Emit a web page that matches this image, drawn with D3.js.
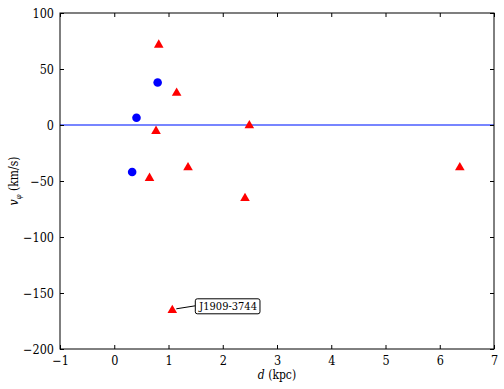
<!DOCTYPE html>
<html>
<head>
<meta charset="utf-8">
<script src="https://cdn.jsdelivr.net/npm/d3@7"></script>
<style>
  body { margin: 0; background: #fff; }
</style>
</head>
<body>
<div id="chart"></div>
<script>
var w = 504
  , h = 389
  , m = { top: 13, right: 10, bottom: 40, left: 60 }
  , serif = '"DejaVu Serif Condensed", "Noto Serif", "Liberation Serif", serif'
  ;

// blue circles
var circleD = [0.33, 0.41, 0.80];
var circleV = [-42, 6.5, 38];

// red triangles
var triD = [0.82, 1.15, 0.77, 2.49, 1.36, 0.65, 2.41, 6.37, 1.07];
var triV = [72, 29, -5, 0, -37.5, -47, -65, -37.5, -165];

var xTicks = [-1, 0, 1, 2, 3, 4, 5, 6, 7];
var yTicks = [-200, -150, -100, -50, 0, 50, 100];

var labelName = 'J1909-3744';
var labelIdx = 8;

var svg = d3.select('#chart').append('svg')
            .attr('width', w).attr('height', h)
  , iw = w - m.left - m.right
  , ih = h - m.top - m.bottom
  , g = svg.append('g').attr('transform', 'translate(' + m.left + ',' + m.top + ')')
  ;

var x = d3.scaleLinear().domain([-1, 7]).range([0, iw]);
var y = d3.scaleLinear().domain([-200, 100]).range([ih, 0]);

function fmt(d) { return d < 0 ? '\u2212' + Math.abs(d) : String(d); }

// zero line
g.append('line')
  .attr('x1', 0).attr('x2', iw)
  .attr('y1', y(0)).attr('y2', y(0))
  .attr('stroke', '#4a5cff').attr('stroke-width', 1.5);

// axes, ticks pointing inward on all sides
var axB = g.append('g').attr('transform', 'translate(0,' + ih + ')')
  .call(d3.axisBottom(x).tickValues(xTicks).tickFormat(fmt).tickSizeInner(-4).tickSizeOuter(0).tickPadding(7));
var axT = g.append('g')
  .call(d3.axisTop(x).tickValues(xTicks).tickFormat('').tickSizeInner(-4).tickSizeOuter(0));
var axL = g.append('g')
  .call(d3.axisLeft(y).tickValues(yTicks).tickFormat(fmt).tickSizeInner(-4).tickSizeOuter(0).tickPadding(6));
var axR = g.append('g').attr('transform', 'translate(' + iw + ',0)')
  .call(d3.axisRight(y).tickValues(yTicks).tickFormat('').tickSizeInner(-4).tickSizeOuter(0));

[axB, axT, axL, axR].forEach(function (a) {
  a.select('.domain').remove();
  a.selectAll('text').attr('font-size', 12.5).attr('fill', '#000')
    .style('font-family', serif);
  a.selectAll('line').attr('stroke', '#000');
});

g.append('rect')
  .attr('width', iw).attr('height', ih)
  .attr('fill', 'none').attr('stroke', '#000').attr('stroke-width', 1);

// annotation arrow line
var lx = x(triD[labelIdx]) + 23, ly = y(triV[labelIdx]) - 4;
g.append('line')
  .attr('x1', x(triD[labelIdx]) + 4).attr('y1', y(triV[labelIdx]) - 1)
  .attr('x2', lx).attr('y2', ly)
  .attr('stroke', '#000').attr('stroke-width', 1);

// circles
g.selectAll('circle.pt').data(circleD).enter()
  .append('circle')
  .attr('class', 'pt')
  .attr('cx', function (d) { return x(d); })
  .attr('cy', function (d, i) { return y(circleV[i]); })
  .attr('r', 4.3)
  .attr('fill', '#0000ff');

// triangles
var tri = d3.symbol().type(d3.symbolTriangle).size(40);
g.selectAll('path.tri').data(triD).enter()
  .append('path')
  .attr('class', 'tri')
  .attr('d', tri)
  .attr('transform', function (d, i) {
    return 'translate(' + x(d) + ',' + (y(triV[i]) + 0.5) + ')';
  })
  .attr('fill', '#ff0000');

// annotation box
var lab = g.append('g').attr('transform', 'translate(' + lx + ',' + ly + ')');
var lt = lab.append('text')
  .attr('x', 4).attr('y', 4)
  .attr('font-size', 11)
  .style('font-family', serif)
  .text(labelName);
var bb = lt.node().getBBox();
lab.insert('rect', 'text')
  .attr('x', bb.x - 3).attr('y', bb.y - 1)
  .attr('width', bb.width + 6).attr('height', bb.height + 2)
  .attr('rx', 2).attr('fill', '#fff').attr('stroke', '#000').attr('stroke-width', 1);

// axis labels
var xl = svg.append('text')
  .attr('x', m.left + iw / 2).attr('y', h - 10)
  .attr('text-anchor', 'middle').attr('font-size', 12)
  .style('font-family', serif);
xl.append('tspan').attr('font-style', 'italic').text('d');
xl.append('tspan').text(' (kpc)');

var yl = svg.append('text')
  .attr('transform', 'translate(18,' + (m.top + ih / 2) + ') rotate(-90)')
  .attr('text-anchor', 'middle').attr('font-size', 12)
  .style('font-family', serif);
yl.append('tspan').attr('font-style', 'italic').text('v');
yl.append('tspan').attr('font-style', 'italic').attr('font-size', 8).attr('dy', 3).text('\u03c6');
yl.append('tspan').attr('dy', -3).text(' (km/s)');
</script>
</body>
</html>
